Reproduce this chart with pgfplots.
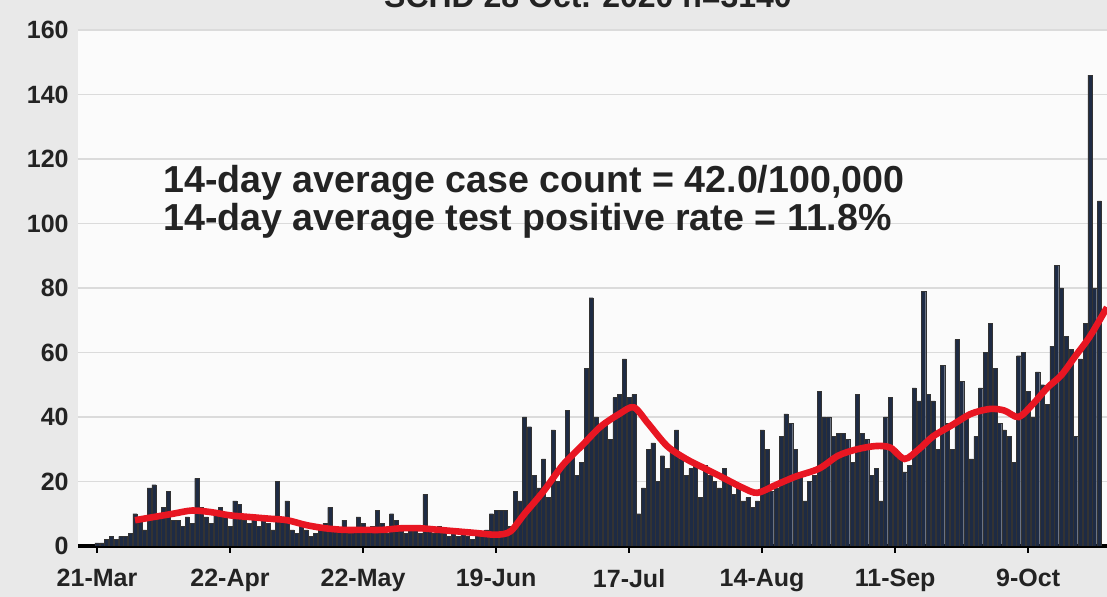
\documentclass[border=0pt]{standalone}
\usepackage{fontspec}
\setmainfont{Liberation Sans}
\usepackage{pgfplots}
\pgfplotsset{compat=1.18}
\definecolor{bgcol}{RGB}{233,233,233}
\definecolor{plotbg}{RGB}{251,251,251}
\definecolor{barcol}{RGB}{30,43,68}
\definecolor{redline}{RGB}{232,22,34}
\definecolor{txt}{RGB}{35,35,35}

\pgfplotstableread{
d v
0 1
1 1
2 2
3 3
4 2
5 3
6 3
7 4
8 10
9 9
10 5
11 18
12 19
13 9
14 12
15 17
16 8
17 8
18 6
19 9
20 7
21 21
22 12
23 9
24 7
25 11
26 12
27 9
28 6
29 14
30 13
31 8
32 7
33 9
34 6
35 8
36 7
37 5
38 20
39 9
40 14
41 5
42 4
43 6
44 5
45 3
46 4
47 5
48 7
49 12
50 6
51 5
52 8
53 4
54 5
55 9
56 7
57 5
58 6
59 11
60 7
61 4
62 10
63 8
64 5
65 4
66 6
67 5
68 4
69 16
70 5
71 4
72 6
73 5
74 3
75 4
76 3
77 5
78 3
79 2
80 4
81 3
82 5
83 10
84 11
85 11
86 11
87 6
88 17
89 14
90 40
91 37
92 22
93 18
94 27
95 15
96 36
97 20
98 24
99 42
100 28
101 22
102 26
103 55
104 77
105 40
106 37
107 38
108 33
109 46
110 47
111 58
112 46
113 47
114 10
115 18
116 30
117 32
118 20
119 28
120 24
121 30
122 36
123 27
124 22
125 24
126 26
127 15
128 25
129 22
130 20
131 18
132 24
133 20
134 16
135 18
136 14
137 15
138 12
139 14
140 36
141 30
142 17
143 18
144 34
145 41
146 38
147 30
148 22
149 14
150 20
151 22
152 48
153 40
154 40
155 34
156 35
157 35
158 33
159 26
160 47
161 35
162 33
163 22
164 24
165 14
166 40
167 46
168 30
169 28
170 23
171 25
172 49
173 45
174 79
175 47
176 45
177 30
178 56
179 38
180 30
181 64
182 51
183 40
184 27
185 34
186 49
187 60
188 69
189 55
190 38
191 36
192 34
193 26
194 59
195 60
196 48
197 40
198 54
199 50
200 44
201 62
202 87
203 80
204 65
205 61
206 34
207 58
208 69
209 146
210 80
211 107
}\bars

\pgfplotstableread{
d v
8 8
12 9
16 10
20 11
24 10.5
28 9.5
32 9
36 8.5
40 8
44 6.5
48 5.5
52 5
56 5
60 5
64 5.5
68 5.5
72 5
76 4.5
80 4
84 3.5
87 4.5
90 10
94 17
98 25
102 31
106 37
110 41
113 43
116 38
120 31
124 27
128 24
132 21
136 18
139 16.5
143 19
147 21.5
152 24
156 28
160 30
164 31
167 30.5
170 27
173 30
176 34
180 37.5
184 41
188 42.5
191 42
194 40
197 44
200 49
203 53
206 59
209 65
212.6 74
}\avg

\begin{document}
\begin{tikzpicture}
\fill[bgcol] (-39pt,-25.5pt) rectangle (514.5pt,273pt);
\begin{axis}[
  at={(0,0)}, anchor=south west,
  scale only axis, width=514.5pt, height=258pt,
  xmin=-4, xmax=212.6, ymin=0, ymax=160,
  axis background/.style={fill=plotbg},
  axis x line=bottom, axis y line=left,
  x axis line style={-, line width=1.6pt, black},
  y axis line style={draw=none},
  ytick={0,20,...,160},
  yticklabels={0,20,40,60,80,100,120,140,160},
  xtick={0,28,56,84,112,140,168,196},
  xticklabels={21-Mar,22-Apr,22-May,19-Jun,17-Jul,14-Aug,11-Sep,9-Oct},
  ymajorgrids, grid style={draw=black!14, line width=0.8pt},
  tick align=outside, major tick length=3.5pt,
  xtick style={black, line width=1.2pt},
  ytick style={draw=none},
  ticklabel style={font=\bfseries\fontsize{12.5}{14}\selectfont, text=txt},
  yticklabel style={anchor=east, inner sep=0pt, xshift=-1pt},
  xticklabel style={anchor=north, inner sep=0pt, yshift=-8pt},
  clip=true,
]
\addplot[ybar, bar width=0.86, bar shift=0pt, fill=barcol, draw=black!80, line width=0.15pt] table[x=d, y=v] {\bars};
\addplot[smooth, tension=0.5, redline, line width=3.3pt] table[x=d, y=v] {\avg};
\end{axis}
\node[anchor=base west, text=txt, font=\bfseries\fontsize{18.8}{19}\selectfont, inner sep=0pt] at (42.5pt,176.5pt) {14-day average case count = 42.0/100,000};
\node[anchor=base west, text=txt, font=\bfseries\fontsize{18.8}{19}\selectfont, inner sep=0pt] at (42.5pt,157.5pt) {14-day average test positive rate = 11.8\%};
\node[anchor=base, text=txt, font=\bfseries\fontsize{16}{18}\selectfont, inner sep=0pt] at (255pt,269pt) {SCHD 28 Oct. 2020 n=3140};
\pgfresetboundingbox
\useasboundingbox (-39pt,-25.5pt) rectangle (514.5pt,273pt);
\end{tikzpicture}
\end{document}
